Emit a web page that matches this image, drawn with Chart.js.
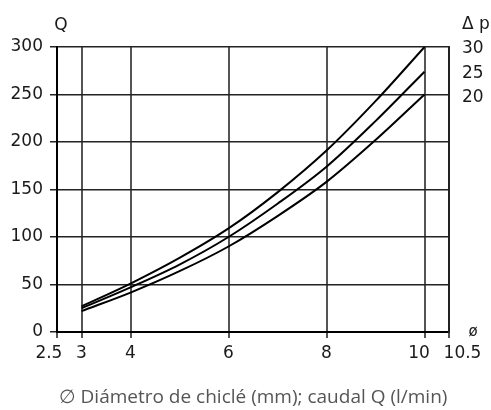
<!DOCTYPE html>
<html>
<head>
<meta charset="utf-8">
<script src="https://cdn.jsdelivr.net/npm/chart.js@4/dist/chart.umd.min.js"></script>
<style>
  body { margin: 0; background: #fff; }
  #wrap { width: 491px; height: 410px; }
</style>
</head>
<body>
<div id="wrap"><canvas id="chart" width="491" height="410"></canvas></div>
<script>
// Diameter (mm) and flow Q (l/min) for each pressure drop
let diameters = [3, 4, 5, 6, 7, 8, 9, 10];
let q30 = [27, 51, 78, 109, 147, 191, 243, 300];
let q25 = [25, 47, 71, 100, 135, 174, 222, 274];
let q20 = [22, 41.5, 64, 90, 122, 158, 202, 250];

// Axis ticks
let xTicks = [2.5, 3, 4, 6, 8, 10, 10.5];
let yTicks = [0, 50, 100, 150, 200, 250, 300];
let dpLabels = ["30", "25", "20"];
let dpTickValues = [298, 272, 247];

const font = "'DejaVu Sans', sans-serif";

function curve(label, data) {
    return {
        label: label,
        data: diameters.map((d, i) => ({ x: d, y: data[i] })),
        borderColor: "#000",
        borderWidth: 2,
        pointRadius: 0,
        fill: false,
        cubicInterpolationMode: "monotone"
    };
}

// the end labels sit a bit off their ticks in the original, nudge with spaces
function xLabel(v) {
    if (v === 2.5) return "2.5   ";
    if (v === 10) return "10  ";
    if (v === 10.5) return "     10.5";
    return String(v);
}

// Extra text labels: Q, Δp and ø
const labelsPlugin = {
    id: "labels",
    afterDraw(chart) {
        const ctx = chart.ctx;
        const area = chart.chartArea;
        ctx.save();
        ctx.fillStyle = "#1a1a1a";
        ctx.font = "17px " + font;
        ctx.textBaseline = "alphabetic";
        ctx.textAlign = "center";
        ctx.fillText("Q", area.left + 4, 30);
        ctx.textAlign = "left";
        ctx.fillText("\u0394 p", area.right + 13, 29);
        ctx.font = "15px " + font;
        ctx.textAlign = "center";
        ctx.fillText("\u00f8", area.right + 24, area.bottom + 4);
        ctx.restore();
    }
};

function initChart() {
    const ctx = document.getElementById("chart").getContext("2d");
    new Chart(ctx, {
        type: "line",
        data: {
            datasets: [
                curve("30", q30),
                curve("25", q25),
                curve("20", q20)
            ]
        },
        options: {
            responsive: false,
            animation: false,
            layout: { padding: { top: 47, left: 0, right: 0, bottom: 0 } },
            plugins: {
                legend: { display: false },
                tooltip: { enabled: false }
            },
            scales: {
                x: {
                    type: "linear",
                    min: 2.5,
                    max: 10.5,
                    afterBuildTicks: axis => { axis.ticks = xTicks.map(v => ({ value: v })); },
                    afterFit: axis => { axis.height = 78; },
                    border: { color: "#000", width: 2 },
                    grid: { color: "#555", lineWidth: 2, tickLength: 6 },
                    ticks: {
                        color: "#1a1a1a",
                        font: { family: font, size: 17 },
                        padding: 5,
                        autoSkip: false,
                        maxRotation: 0,
                        callback: v => xLabel(v)
                    },
                    title: {
                        display: true,
                        text: "\u2205 Diámetro de chiclé (mm); caudal Q (l/min)",
                        color: "#555",
                        font: { family: "'Open Sans', sans-serif", size: 19 },
                        padding: { top: 0, bottom: 1 }
                    }
                },
                y: {
                    min: 0,
                    max: 300,
                    afterBuildTicks: axis => { axis.ticks = yTicks.map(v => ({ value: v })); },
                    afterFit: axis => { axis.width = 57; },
                    border: { color: "#000", width: 2 },
                    grid: { color: "#222", lineWidth: 1.5, tickLength: 7 },
                    ticks: {
                        color: "#1a1a1a",
                        font: { family: font, size: 17 },
                        padding: 7
                    }
                },
                y2: {
                    position: "right",
                    min: 0,
                    max: 300,
                    afterBuildTicks: axis => { axis.ticks = dpTickValues.map(v => ({ value: v })); },
                    afterFit: axis => { axis.width = 42; },
                    border: { color: "#222", width: 2 },
                    grid: { drawOnChartArea: false, drawTicks: false },
                    ticks: {
                        color: "#1a1a1a",
                        font: { family: font, size: 17 },
                        padding: 13,
                        callback: (v, i) => dpLabels[i]
                    }
                }
            }
        },
        plugins: [labelsPlugin]
    });
}

window.onload = initChart;
</script>
</body>
</html>
